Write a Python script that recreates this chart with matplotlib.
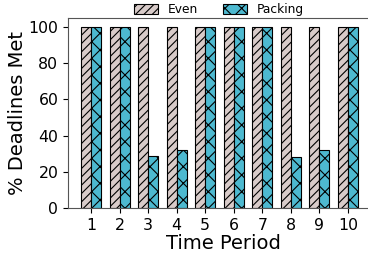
import numpy as np
import matplotlib.pyplot as plt

periods = [1, 2, 3, 4, 5, 6, 7, 8, 9, 10]
even = [100, 100, 100, 100, 100, 100, 100, 100, 100, 100]
packing = [100, 100, 29, 32, 100, 100, 100, 28, 32, 100]

plt.rcParams['hatch.linewidth'] = 0.8
fig = plt.figure(figsize=(3.68, 2.54), dpi=100)
ax = fig.add_axes([68 / 368, 46 / 254, 310 / 368, 190 / 254])

x = np.array(periods)
w = 0.35
ax.bar(x - w / 2, even, w, color='#d8cbc9', edgecolor='black', linewidth=0.8,
       hatch='////', label='Even')
ax.bar(x + w / 2, packing, w, color='#4db9d0', edgecolor='black', linewidth=0.8,
       hatch='xx', label='Packing')

ax.set_xlim(0.195, 11.05)
ax.set_ylim(0, 105)
ax.set_xticks(periods)
ax.set_yticks([0, 20, 40, 60, 80, 100])
ax.tick_params(labelsize=11.3)
for s in ax.spines.values():
    s.set_color('#555555')
ax.set_xlabel('Time Period', fontsize=14, labelpad=1)
ax.set_ylabel('% Deadlines Met', fontsize=14, labelpad=1)

ax.legend(loc='lower center', bbox_to_anchor=(0.487, 0.97), ncol=2, frameon=False,
          fontsize=8.8, handlelength=2.0, columnspacing=2.0, borderpad=0.1,
          handleheight=0.8, handletextpad=0.8)

fig.savefig('out.png', dpi=100)
